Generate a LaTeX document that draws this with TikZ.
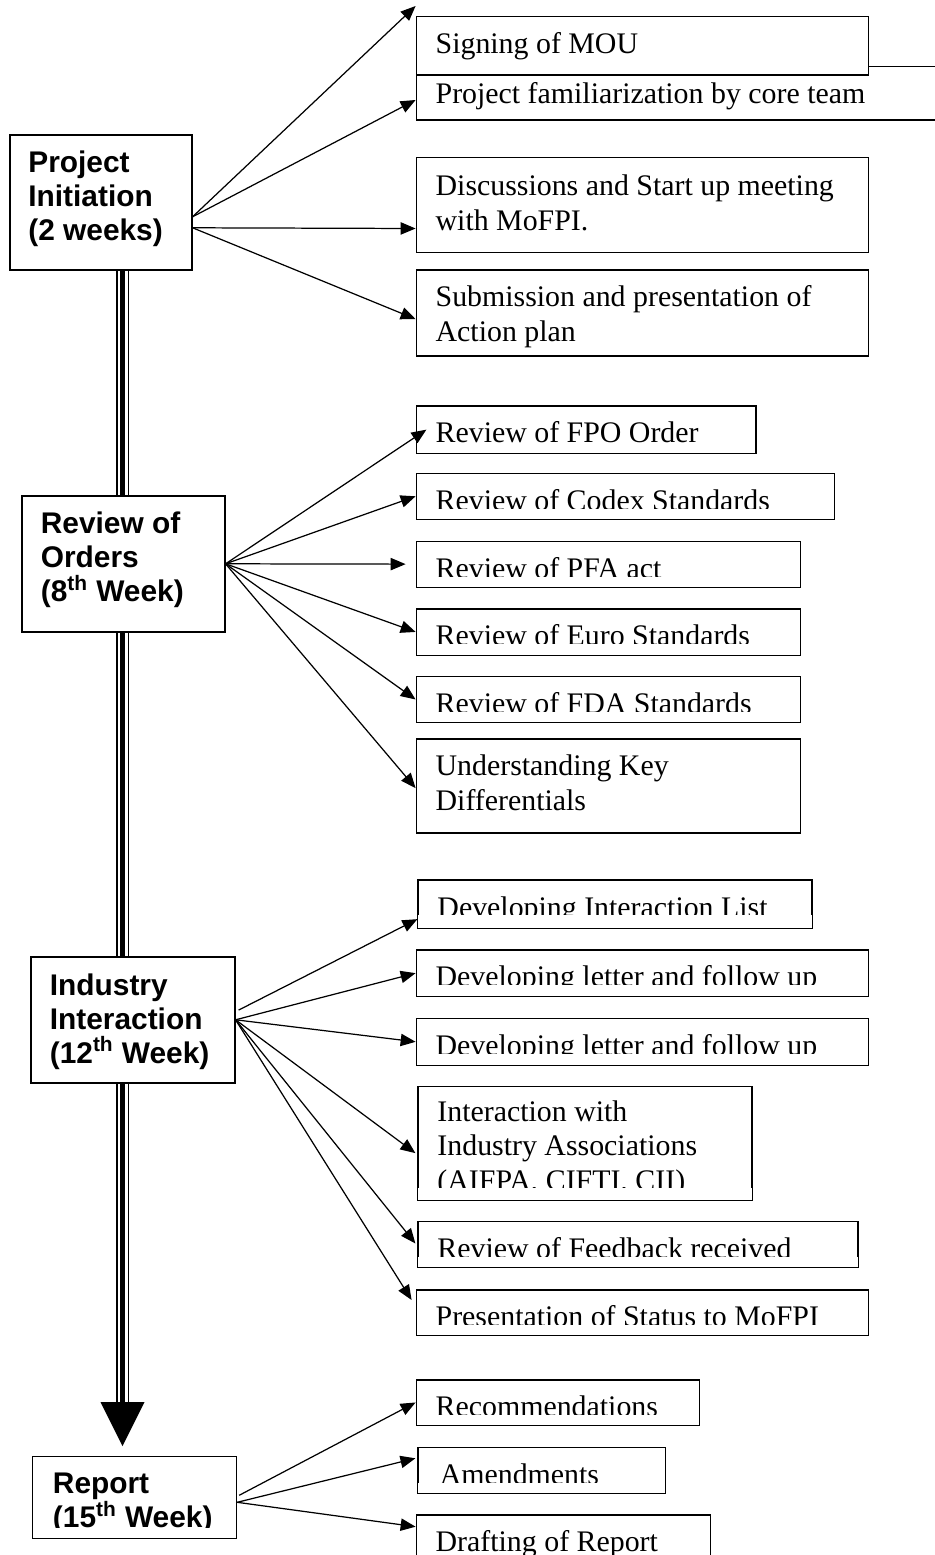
\documentclass[tikz,border=0pt]{standalone}
\usepackage{fontspec}
\setmainfont{Liberation Serif}
\setsansfont{Liberation Sans}
\usepackage{tikz}
\usetikzlibrary{calc,arrows.meta}
\newcommand{\pxu}{0.02cm}

\begin{document}
\begin{tikzpicture}[x=0.02cm, y=-0.02cm,
  phase/.style={draw, fill=white, line width=0.9pt, anchor=north west, inner sep=0pt},
  task/.style={phase},
  phasetext/.style={anchor=base west, inner sep=0pt, align=left,
    font=\sffamily\bfseries\fontsize{17}{19.3}\selectfont},
  tasktext/.style={anchor=base west, inner sep=0pt, align=left,
    font=\fontsize{17}{19.6}\selectfont},
  arr/.style={line width=0.7pt, -{Triangle[length=8.5pt,width=7pt]}},
  cut/.style={fill=white}
]
\clip (0,0) rectangle (935,1555);

% The time line
\coordinate (spine top) at (122.5,262);
\coordinate (spine end) at (122.5,1402);
\draw[line width=13*\pxu] (spine top) -- (spine end);
\draw[line width=10*\pxu, white] (spine top) -- (spine end);
\draw[line width=5*\pxu] (spine top) -- (spine end);
\fill ($(spine end)+(-22,0)$) -- ($(spine end)+(22,0)$) -- ($(spine end)+(0,44)$) -- cycle;

% The phases (base = last line)
\node[phase, minimum width=182*\pxu, minimum height=135*\pxu] (init) at (9,134) {};
\node[phasetext] (init text) at ($(init.north west)+(19,106)$) {Project\\Initiation\\(2 weeks)};
\node[phase, minimum width=203*\pxu, minimum height=136*\pxu] (orders) at (21,495) {};
\node[phasetext] (orders text) at ($(orders.north west)+(19.5,106.5)$) {Review of\\Orders\\(8\textsuperscript{th} Week)};
\node[phase, minimum width=204*\pxu, minimum height=126*\pxu] (ind) at (30,956) {};
\node[phasetext] (ind text) at ($(ind.north west)+(19.5,107)$) {Industry\\Interaction\\(12\textsuperscript{th} Week)};
\node[phase, minimum width=204*\pxu, minimum height=81.6*\pxu] (report) at (31.6,1455.7) {};
\node[phasetext] (report text) at ($(report.north west)+(21,71.3)$) {Report\\(15\textsuperscript{th} Week)};

% Initiation tasks
\node[task, minimum width=540*\pxu, minimum height=53.3*\pxu] (fam) at (415.6,65.7) {};
\node[tasktext] (fam text) at ($(fam.north west)+(19.7,37.6)$) {Project familiarization by core team};
\node[task, minimum width=452*\pxu, minimum height=58.3*\pxu] (mou) at (415.6,15.7) {};
\node[tasktext] (mou text) at ($(mou.north west)+(19.7,37.6)$) {Signing of MOU};
\node[task, minimum width=452*\pxu, minimum height=95*\pxu] (disc) at (415.6,156.7) {};
\node[tasktext] (disc text) at ($(disc.north west)+(19.7,73.3)$) {Discussions and Start up meeting\\with MoFPI.};
\node[task, minimum width=452*\pxu, minimum height=86*\pxu] (sub) at (415.6,269.3) {};
\node[tasktext] (sub text) at ($(sub.north west)+(19.7,71.8)$) {Submission and presentation of\\Action plan};

% Review tasks
\node[task, minimum width=339.4*\pxu, minimum height=47.7*\pxu] (fpo) at (415.6,405) {};
\node[tasktext] (fpo text) at ($(fpo.north west)+(19.7,37.7)$) {Review of FPO Order};
\node[task, minimum width=418*\pxu, minimum height=45.6*\pxu] (codex) at (415.6,472.7) {};
\node[tasktext] (codex text) at ($(codex.north west)+(19.7,37.5)$) {Review of Codex Standards};
\node[task, minimum width=384*\pxu, minimum height=45.3*\pxu] (pfa) at (415.6,540.7) {};
\node[tasktext] (pfa text) at ($(pfa.north west)+(19.7,37.5)$) {Review of PFA act};
\node[task, minimum width=384*\pxu, minimum height=45.7*\pxu] (euro) at (415.6,608.3) {};
\node[tasktext] (euro text) at ($(euro.north west)+(19.7,37.5)$) {Review of Euro Standards};
\node[task, minimum width=384*\pxu, minimum height=46*\pxu] (fda) at (415.6,675.7) {};
\node[tasktext] (fda text) at ($(fda.north west)+(19.7,37.5)$) {Review of FDA Standards};
\node[task, minimum width=384*\pxu, minimum height=94*\pxu] (und) at (415.6,738.3) {};
\node[tasktext] (und text) at ($(und.north west)+(19.7,71.7)$) {Understanding Key\\Differentials};

% Interaction tasks
\node[task, minimum width=393.6*\pxu, minimum height=48.7*\pxu] (list) at (417.4,879) {};
\node[tasktext] (list text) at ($(list.north west)+(19.7,38.2)$) {Developing Interaction List};
\node[task, minimum width=452*\pxu, minimum height=46.7*\pxu] (let1) at (415.6,949) {};
\node[tasktext] (let1 text) at ($(let1.north west)+(19.7,37.5)$) {Developing letter and follow up};
\node[task, minimum width=452*\pxu, minimum height=46.6*\pxu] (let2) at (415.6,1017.7) {};
\node[tasktext] (let2 text) at ($(let2.north west)+(19.7,37.5)$) {Developing letter and follow up};
\node[task, minimum width=334*\pxu, minimum height=113.3*\pxu] (assoc) at (417.4,1085.7) {};
\node[tasktext] (assoc text) at ($(assoc.north west)+(19.7,104.4)$) {Interaction with\\Industry Associations\\(AIFPA, CIFTI, CII)};
\node[task, minimum width=439.6*\pxu, minimum height=46*\pxu] (fb) at (417.4,1220.7) {};
\node[tasktext] (fb text) at ($(fb.north west)+(19.7,37.5)$) {Review of Feedback received};
\node[task, minimum width=452*\pxu, minimum height=45.3*\pxu] (stat) at (415.6,1289) {};
\node[tasktext] (stat text) at ($(stat.north west)+(19.7,37.5)$) {Presentation of Status to MoFPI};

% Report tasks
\node[task, minimum width=283.3*\pxu, minimum height=45.3*\pxu] (rec) at (415.6,1379) {};
\node[tasktext] (rec text) at ($(rec.north west)+(19.7,37.3)$) {Recommendations};
\node[task, minimum width=247.5*\pxu, minimum height=45.6*\pxu] (amd) at (417.4,1446.7) {};
\node[tasktext] (amd text) at ($(amd.north west)+(22,37.5)$) {Amendments};
\node[task, minimum width=294*\pxu, minimum height=60*\pxu] (draft) at (415.6,1514.3) {};
\node[tasktext] (draft text) at ($(draft.north west)+(19.7,37.5)$) {Drafting of Report};

% Text cut off at the bottom of the boxes
\foreach \b in {codex,pfa,euro,fda,list,let1,let2,fb,stat,rec,amd}
  \fill[cut] ($(\b.north west)+(1,36)$) rectangle ($(\b.south east)+(-1,-1)$);
\fill[cut] ($(assoc.north west)+(1,102.6)$) rectangle ($(assoc.south east)+(-1,-1)$);
\fill[cut] ($(report.north west)+(1,72)$) rectangle ($(report.south east)+(-1,-1)$);

% The arrows
\draw[arr] ($(init.east)+(0,14.5)$) -- ($(mou.north west)+(0,-9.7)$);
\draw[arr] ($(init.east)+(0,14.5)$) -- ($(fam.north west)+(0,34.3)$);
\draw[arr] ($(init.east)+(0,25.5)$) -- ($(disc.west)+(0,23.5)$);
\draw[arr] ($(init.east)+(0,25.5)$) -- ($(sub.west)+(0,6)$);

\draw[arr] (orders.east) -- ($(fpo.west)+(10.8,0)$);
\draw[arr] (orders.east) -- ($(pfa.west)+(-10,0)$);
\draw[arr] (orders.east) -- ($(und.west)+(0,2)$);
\foreach \t in {codex,euro,fda}
  \draw[arr] (orders.east) -- (\t.west);

\draw[arr] ($(ind.east)+(3,-9.7)$) -- ($(list.west)+(0,15)$);
\draw[arr] (ind.east) -- (let1.west);
\draw[arr] (ind.east) -- (let2.west);
\draw[arr] (ind.east) -- ($(assoc.west)+(-2,10)$);
\draw[arr] (ind.east) -- ($(fb.west)+(-2,-1)$);
\draw[arr] (ind.east) -- ($(stat.north west)+(-4,11)$);

\draw[arr] ($(report.east)+(2,-2)$) -- (rec.west);
\draw[arr] ($(report.east)+(0,5)$) -- ($(amd.west)+(-2,-12)$);
\draw[arr] ($(report.east)+(0,5)$) -- ($(draft.north west)+(0,12.4)$);
\end{tikzpicture}
\end{document}
